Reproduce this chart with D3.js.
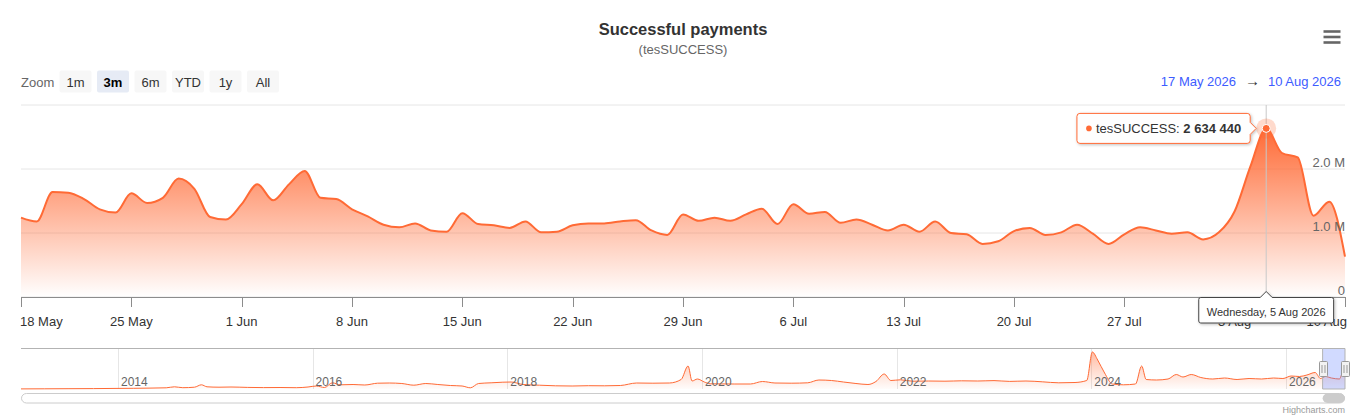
<!DOCTYPE html>
<html><head><meta charset="utf-8">
<script src="https://cdn.jsdelivr.net/npm/d3@7"></script>
<style>
html,body{margin:0;padding:0;background:#fff;}
svg{display:block;font-family:"Liberation Sans",Arial,Helvetica,sans-serif;}
</style></head><body>
<svg id="chart" width="1370" height="420"></svg>
<script>
// ---------------- DATA ----------------
const chartTitle = "Successful payments";
const chartSubtitle = "(tesSUCCESS)";
const seriesName = "tesSUCCESS";
const firstDay = "2026-05-18";
const lastDay = "2026-08-10";
const rangeFrom = "2026-05-17";
const rangeTo = "2026-08-10";
const hoverDay = "2026-08-05";
const zoomButtons = ["1m", "3m", "6m", "YTD", "1y", "All"];
const selectedButton = "3m";
const yTicks = [0, 1000000, 2000000, 3000000];
// daily successful payments, 18 May .. 10 Aug 2026
const dailyValues = [
  1240000, 1180000, 1640000, 1630000, 1530000, 1370000, 1320000, 1620000, 1470000, 1550000,
  1850000, 1690000, 1250000, 1210000, 1450000, 1760000, 1510000, 1760000, 1970000, 1550000,
  1530000, 1370000, 1260000, 1130000, 1090000, 1150000, 1040000, 1020000, 1310000, 1140000,
  1120000, 1080000, 1180000, 1010000, 1020000, 1120000, 1150000, 1150000, 1180000, 1200000,
  1040000, 970000, 1290000, 1190000, 1240000, 1190000, 1290000, 1380000, 1140000, 1450000,
  1300000, 1330000, 1160000, 1210000, 1130000, 1040000, 1130000, 1020000, 1180000, 1000000,
  980000, 830000, 870000, 1030000, 1080000, 970000, 1010000, 1130000, 990000, 830000,
  980000, 1090000, 1040000, 990000, 1010000, 900000, 1010000, 1340000, 2040000, 2634440,
  2250000, 2180000, 1270000, 1490000, 630000
];
// navigator (full history, grouped)
const navDates = [
  "2013-01-02","2013-04-01","2013-07-01","2013-10-01","2014-01-01","2014-03-01","2014-05-01","2014-07-01",
  "2014-08-01","2014-09-01","2014-10-15","2014-11-10","2014-12-01","2015-01-15","2015-03-01","2015-05-01",
  "2015-07-01","2015-09-01","2015-11-01","2015-12-15","2016-01-15","2016-02-15","2016-03-15","2016-04-15",
  "2016-06-01","2016-07-15","2016-09-01","2016-10-15","2016-12-01","2017-01-15","2017-03-01","2017-04-15",
  "2017-06-01","2017-07-15","2017-08-15","2017-09-15","2017-11-01","2017-12-15","2018-01-15","2018-03-01",
  "2018-05-01","2018-07-01","2018-09-01","2018-11-01","2019-01-01","2019-03-01","2019-05-01","2019-07-01",
  "2019-09-01","2019-10-15","2019-11-10","2019-11-25","2019-12-15","2020-01-10","2020-02-01","2020-05-01",
  "2020-07-01","2020-08-15","2020-10-01","2020-12-01","2021-02-01","2021-03-15","2021-05-01","2021-06-15",
  "2021-08-01","2021-09-15","2021-10-15","2021-11-15","2021-12-10","2022-01-15","2022-03-01","2022-05-01",
  "2022-07-01","2022-09-01","2022-11-01","2023-01-01","2023-03-01","2023-05-01","2023-07-01","2023-09-01",
  "2023-11-01","2023-12-15","2024-01-05","2024-01-25","2024-02-20","2024-03-20","2024-05-01","2024-06-15",
  "2024-07-08","2024-07-25","2024-09-01","2024-10-15","2024-11-15","2024-12-10","2025-01-10","2025-02-15",
  "2025-04-01","2025-05-15","2025-07-01","2025-08-15","2025-10-01","2025-11-15","2025-12-20","2026-01-20",
  "2026-02-20","2026-03-20","2026-04-20","2026-05-10","2026-05-28","2026-06-20","2026-07-20","2026-08-05",
  "2026-08-10"
];
const navValues = [
  10000, 20000, 30000, 40000, 60000, 70000, 90000, 120000,
  220000, 130000, 180000, 420000, 220000, 180000, 200000, 160000,
  140000, 150000, 130000, 200000, 300000, 150000, 620000, 420000,
  450000, 400000, 580000, 600000, 550000, 380000, 550000, 450000,
  350000, 300000, 120000, 550000, 620000, 680000, 700000, 450000,
  380000, 320000, 300000, 330000, 320000, 350000, 600000, 580000,
  600000, 950000, 2300000, 800000, 1000000, 700000, 520000, 500000,
  500000, 750000, 600000, 580000, 620000, 900000, 850000, 700000,
  550000, 450000, 750000, 1500000, 850000, 920000, 780000, 800000,
  780000, 820000, 800000, 840000, 760000, 800000, 720000, 620000,
  650000, 850000, 3700000, 2900000, 1600000, 500000, 420000, 500000,
  2300000, 950000, 900000, 1000000, 1450000, 1200000, 1450000, 1150000,
  1000000, 1100000, 950000, 1050000, 1000000, 1100000, 1050000, 1300000,
  1250000, 1400000, 1650000, 1050000, 1250000, 1100000, 1000000, 1900000,
  1200000
];

// ---------------- DRAW ----------------
const lineColor = "#ff6a35";
const parse = d3.utcParse("%Y-%m-%d");
const svg = d3.select("#chart");
const plot = {left: 21, right: 1345, top: 105, bottom: 297};
const nav = {top: 349, bottom: 389};

const dates = d3.utcDay.range(parse(firstDay), d3.utcDay.offset(parse(lastDay), 1));
const data = dates.map((d, i) => ({date: d, value: dailyValues[i]}));

const x = d3.scaleUtc().domain([parse(firstDay), parse(lastDay)]).range([plot.left, plot.right]);
const y = d3.scaleLinear().domain([0, 3000000]).range([plot.bottom, plot.top]);

const defs = svg.append("defs");
const g1 = defs.append("linearGradient").attr("id", "mainFill").attr("x1", 0).attr("y1", 0).attr("x2", 0).attr("y2", 1);
g1.append("stop").attr("offset", 0).attr("stop-color", lineColor).attr("stop-opacity", 1);
g1.append("stop").attr("offset", 1).attr("stop-color", lineColor).attr("stop-opacity", 0);
const g2 = defs.append("linearGradient").attr("id", "navFill").attr("x1", 0).attr("y1", 0).attr("x2", 0).attr("y2", 1);
g2.append("stop").attr("offset", 0).attr("stop-color", lineColor).attr("stop-opacity", 0.45);
g2.append("stop").attr("offset", 1).attr("stop-color", lineColor).attr("stop-opacity", 0.02);
const sh = defs.append("filter").attr("id", "shadow").attr("x", "-20%").attr("y", "-40%").attr("width", "140%").attr("height", "180%");
sh.append("feDropShadow").attr("dx", 1).attr("dy", 1).attr("stdDeviation", 1.5).attr("flood-color", "#000").attr("flood-opacity", 0.25);

// Title
svg.append("text").attr("x", 683).attr("y", 35).attr("text-anchor", "middle")
  .attr("font-size", 16.5).attr("font-weight", "bold").attr("fill", "#333").text(chartTitle);
svg.append("text").attr("x", 683).attr("y", 54).attr("text-anchor", "middle")
  .attr("font-size", 13).attr("fill", "#666").text(chartSubtitle);

// Menu icon
[31.5, 37, 42.5].forEach(yy => {
  svg.append("line").attr("x1", 1323.5).attr("x2", 1340.5).attr("y1", yy).attr("y2", yy)
    .attr("stroke", "#666").attr("stroke-width", 2.6);
});

// Range selector
svg.append("text").attr("x", 21).attr("y", 86.5).attr("font-size", 13).attr("fill", "#666").text("Zoom");
zoomButtons.forEach((b, i) => {
  const bx = 59.5 + i * 37.5;
  const sel = b === selectedButton;
  svg.append("rect").attr("x", bx).attr("y", 70.5).attr("width", 32).attr("height", 22).attr("rx", 2)
    .attr("fill", sel ? "#e6ebf5" : "#f7f7f7");
  svg.append("text").attr("x", bx + 16).attr("y", 86.5).attr("text-anchor", "middle").attr("font-size", 13)
    .attr("font-weight", sel ? "bold" : "normal").attr("fill", sel ? "#000" : "#333").text(b);
});
const inFmt = d3.utcFormat("%-d %b %Y");
svg.append("text").attr("x", 1236).attr("y", 85.5).attr("text-anchor", "end").attr("font-size", 13)
  .attr("fill", "#3d5cff").text(inFmt(parse(rangeFrom)));
svg.append("text").attr("x", 1252.5).attr("y", 86).attr("text-anchor", "middle").attr("font-size", 15)
  .attr("fill", "#333").text("\u2192");
svg.append("text").attr("x", 1341).attr("y", 85.5).attr("text-anchor", "end").attr("font-size", 13)
  .attr("fill", "#3d5cff").text(inFmt(parse(rangeTo)));

// Gridlines
const grid = svg.append("g");
yTicks.forEach(t => {
  grid.append("line").attr("x1", plot.left).attr("x2", plot.right).attr("y1", y(t)).attr("y2", y(t))
    .attr("stroke", "#e6e6e6").attr("stroke-width", 1);
});

// Area + line
const area = d3.area().x(d => x(d.date)).y0(plot.bottom).y1(d => y(d.value)).curve(d3.curveMonotoneX);
const line = d3.line().x(d => x(d.date)).y(d => y(d.value)).curve(d3.curveMonotoneX);
svg.append("path").datum(data).attr("d", area).attr("fill", "url(#mainFill)");

// crosshair
const hd = data.find(d => +d.date === +parse(hoverDay));
const hx = x(hd.date), hy = y(hd.value);
svg.append("line").attr("x1", hx).attr("x2", hx).attr("y1", plot.top).attr("y2", plot.bottom)
  .attr("stroke", "#c8c8c8").attr("stroke-width", 1);

svg.append("path").datum(data).attr("d", line).attr("fill", "none").attr("stroke", lineColor)
  .attr("stroke-width", 2).attr("stroke-linejoin", "round");

// Y labels
yTicks.slice(0, -1).forEach(t => {
  svg.append("text").attr("x", plot.right).attr("y", y(t) - 2.5).attr("text-anchor", "end")
    .attr("font-size", 13).attr("fill", "#666")
    .text(t === 0 ? "0" : d3.format(".1f")(t / 1e6) + " M");
});

// X axis
svg.append("line").attr("x1", plot.left).attr("x2", plot.right).attr("y1", plot.bottom + 0.5).attr("y2", plot.bottom + 0.5)
  .attr("stroke", "#8c8c8c").attr("stroke-width", 1);
const xt = d3.utcMonday.range(parse(firstDay), d3.utcDay.offset(parse(lastDay), 1));
const xFmt = d3.utcFormat("%-d %b");
xt.forEach((t, i) => {
  const tx = Math.round(x(t)) + 0.5;
  svg.append("line").attr("x1", tx).attr("x2", tx).attr("y1", plot.bottom).attr("y2", plot.bottom + 10)
    .attr("stroke", "#8c8c8c").attr("stroke-width", 1);
  let anchor = "middle", lx = x(t);
  if (i === 0) { anchor = "start"; lx = x(t) - 1; }
  if (i === xt.length - 1) { anchor = "end"; lx = x(t) + 2; }
  svg.append("text").attr("x", lx).attr("y", 325.5).attr("text-anchor", anchor).attr("font-size", 13)
    .attr("fill", "#333").text(xFmt(t));
});

// Hover marker
svg.append("circle").attr("cx", hx).attr("cy", hy).attr("r", 10).attr("fill", lineColor).attr("opacity", 0.25);
svg.append("circle").attr("cx", hx).attr("cy", hy).attr("r", 4).attr("fill", lineColor).attr("stroke", "#fff").attr("stroke-width", 1);

// Tooltip
const numFmt = d3.formatLocale({decimal: ".", thousands: " ", grouping: [3], currency: ["", ""]}).format(",");
const tt = svg.append("g");
const ttBox = tt.append("path");
const ttText = tt.append("text").attr("font-size", 13).attr("fill", "#333");
ttText.append("tspan").text(seriesName + ": ");
ttText.append("tspan").attr("font-weight", "bold").text(numFmt(hd.value));
const tw = ttText.node().getComputedTextLength();
const R = hx - 16, L = R - (tw + 28), T = hy - 15, B = hy + 15;
ttText.attr("x", L + 19).attr("y", hy + 4.5);
tt.append("circle").attr("cx", L + 12).attr("cy", hy).attr("r", 2.8).attr("fill", lineColor);
ttBox.attr("d", `M${L + 3},${T} H${R - 3} Q${R},${T} ${R},${T + 3} V${hy - 6} L${R + 6},${hy} L${R},${hy + 6} V${B - 3} Q${R},${B} ${R - 3},${B} H${L + 3} Q${L},${B} ${L},${B - 3} V${T + 3} Q${L},${T} ${L + 3},${T} Z`)
  .attr("fill", "rgba(255,255,255,0.95)").attr("stroke", lineColor).attr("stroke-width", 1).attr("filter", "url(#shadow)");

// Date label on x axis
const dl = svg.append("g");
const dlText = dl.append("text").attr("x", hx).attr("y", 315.5).attr("text-anchor", "middle").attr("font-size", 11)
  .attr("fill", "#333").text(d3.utcFormat("%A, %-d %b %Y")(hd.date));
const dw = dlText.node().getComputedTextLength() + 16;
const dL = hx - dw / 2, dR = hx + dw / 2, dT = 297.5, dB = 323;
dl.insert("path", "text").attr("d", `M${dL + 2},${dT} H${hx - 6} L${hx},${dT - 6} L${hx + 6},${dT} H${dR - 2} Q${dR},${dT} ${dR},${dT + 2} V${dB - 2} Q${dR},${dB} ${dR - 2},${dB} H${dL + 2} Q${dL},${dB} ${dL},${dB - 2} V${dT + 2} Q${dL},${dT} ${dL + 2},${dT} Z`)
  .attr("fill", "#fff").attr("stroke", "#444").attr("stroke-width", 1).attr("filter", "url(#shadow)");

// ---------------- NAVIGATOR ----------------
const navData = navDates.map((d, i) => ({date: parse(d), value: navValues[i]}));
const nx = d3.scaleUtc().domain([parse(navDates[0]), parse(lastDay)]).range([plot.left, plot.right]);
const ny = d3.scaleLinear().domain([0, 4000000]).range([nav.bottom, nav.top]);
const navYears = d3.utcYear.every(2).range(parse(navDates[0]), parse(lastDay));
navYears.forEach(t => {
  const gx = Math.round(nx(t)) + 0.5;
  svg.append("line").attr("x1", gx).attr("x2", gx).attr("y1", nav.top).attr("y2", nav.bottom)
    .attr("stroke", "#e6e6e6").attr("stroke-width", 1);
});
const navArea = d3.area().x(d => nx(d.date)).y0(nav.bottom).y1(d => ny(d.value)).curve(d3.curveMonotoneX);
const navLine = d3.line().x(d => nx(d.date)).y(d => ny(d.value)).curve(d3.curveMonotoneX);
svg.append("path").datum(navData).attr("d", navArea).attr("fill", "url(#navFill)");
svg.append("path").datum(navData).attr("d", navLine).attr("fill", "none").attr("stroke", lineColor).attr("stroke-width", 1);
navYears.forEach(t => {
  svg.append("text").attr("x", nx(t) + 3).attr("y", 386).attr("font-size", 12).attr("fill", "#666")
    .text(d3.utcFormat("%Y")(t));
});
// mask
const mL = nx(parse(firstDay)), mR = nx(parse(lastDay));
svg.append("rect").attr("x", mL).attr("y", nav.top).attr("width", mR - mL).attr("height", nav.bottom - nav.top)
  .attr("fill", "rgba(102,133,255,0.3)");
// outline
const oT = nav.top - 0.5, oB = nav.bottom;
svg.append("path").attr("d", `M${plot.left},${oT} L${mL},${oT} L${mL},${oB} L${mR},${oB} L${mR},${oT} L${plot.right},${oT} M${mL},${oT} L${mR},${oT}`)
  .attr("fill", "none").attr("stroke", "#b3b3b3").attr("stroke-width", 1);
// handles
[mL, mR].forEach(hx2 => {
  const cx = Math.round(hx2) + 0.5;
  svg.append("rect").attr("x", cx - 4).attr("y", 361.5).attr("width", 8).attr("height", 15).attr("rx", 1)
    .attr("fill", "#f2f2f2").attr("stroke", "#999").attr("stroke-width", 1);
  [-1.5, 1.5].forEach(o => {
    svg.append("line").attr("x1", cx + o).attr("x2", cx + o).attr("y1", 365).attr("y2", 373)
      .attr("stroke", "#999").attr("stroke-width", 1);
  });
});
// scrollbar
svg.append("rect").attr("x", plot.left + 0.5).attr("y", 393.5).attr("width", plot.right - plot.left - 1).attr("height", 9.5)
  .attr("rx", 5).attr("fill", "#fff").attr("stroke", "#cccccc").attr("stroke-width", 1);
svg.append("rect").attr("x", mL).attr("y", 393.5).attr("width", mR - mL).attr("height", 9.5)
  .attr("rx", 5).attr("fill", "#cccccc");
// credits
svg.append("text").attr("x", plot.right).attr("y", 412.5).attr("text-anchor", "end").attr("font-size", 9)
  .attr("fill", "#999").text("Highcharts.com");
</script>
</body></html>
